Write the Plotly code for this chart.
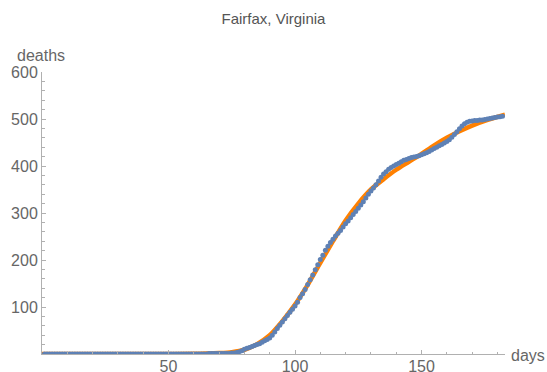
import plotly.graph_objects as go

# ---- data ----
days = list(range(1, 183))
deaths = [0] * 60 + [
    0, 0, 0, 0, 0, 1, 1, 1, 1, 1,           # 61-70
    1, 1, 1, 1, 2, 2, 3, 5, 7, 10,          # 71-80
    12, 14, 16, 18, 20, 22, 25, 28, 31, 34, # 81-90
    40, 47, 54, 61, 68, 75, 82, 89, 95, 102,        # 91-100
    110, 120, 128, 137, 148, 158, 168, 179, 190, 201,  # 101-110
    210, 221, 229, 237, 244, 251, 257, 263, 270, 277,  # 111-120
    283, 290, 297, 303, 310, 317, 324, 332, 340, 347,  # 121-130
    353, 360, 368, 376, 383, 388, 393, 397, 400, 403,  # 131-140
    406, 409, 412, 414, 416, 418, 419, 420, 422, 424,  # 141-150
    426, 428, 431, 434, 437, 440, 443, 446, 449, 452,  # 151-160
    456, 461, 467, 473, 479, 485, 490, 493, 495, 496,  # 161-170
    497, 497, 498, 498, 499, 500, 501, 502, 503, 504,  # 171-180
    505, 506,                                          # 181-182
]

fit_days = [0, 50, 60, 65, 70, 75, 80, 85, 90, 95, 100, 105, 110, 115, 120,
            125, 130, 135, 140, 145, 150, 155, 160, 165, 170, 175, 183]
fit_vals = [0, 0, 0.5, 1, 2, 4, 9, 21, 40, 70, 105, 147, 194, 240, 284,
            320, 350, 372, 392, 409, 426, 444, 460, 474, 486, 496, 509]

title_text = "Fairfax, Virginia"
x_label = "days"
y_label = "deaths"
x_ticks = [50, 100, 150]
y_ticks = [100, 200, 300, 400, 500, 600]

GRAY = "#666666"
AXIS = "#b0b0b0"
FONT = "Liberation Sans, Arial, sans-serif"

fig = go.Figure()
fig.add_trace(go.Scatter(
    x=fit_days, y=fit_vals, mode="lines",
    line=dict(color="#ff8000", width=4.5, shape="spline", smoothing=0.8),
    hoverinfo="skip", showlegend=False,
))
fig.add_trace(go.Scatter(
    x=days, y=deaths, mode="markers",
    marker=dict(color="#5e81b5", size=5, line=dict(width=0)),
    showlegend=False,
))

fig.update_layout(
    width=547, height=372,
    margin=dict(l=42, r=42, t=72, b=18),
    paper_bgcolor="white", plot_bgcolor="white",
    font=dict(family=FONT, color=GRAY, size=16),
    title=dict(text=title_text, x=0.5, xanchor="center", y=0.95, yanchor="middle",
               font=dict(size=15, color="#555555", family=FONT)),
    xaxis=dict(
        range=[0, 183], showgrid=False, zeroline=False, automargin=False,
        showline=True, linecolor=AXIS, linewidth=1,
        tickmode="array", tickvals=x_ticks, ticktext=[str(v) for v in x_ticks],
        ticks="inside", ticklen=4, tickcolor=AXIS, tickwidth=1,
        ticklabelstandoff=-2,
        minor=dict(dtick=10, tick0=0, ticks="inside", ticklen=2.5, tickcolor=AXIS, showgrid=False),
        tickfont=dict(size=16, color=GRAY),
    ),
    yaxis=dict(
        range=[0, 600], showgrid=False, zeroline=False, automargin=False,
        showline=True, linecolor=AXIS, linewidth=1,
        tickmode="array", tickvals=y_ticks, ticktext=[str(v) for v in y_ticks],
        ticks="inside", ticklen=4, tickcolor=AXIS, tickwidth=1,
        minor=dict(dtick=20, tick0=0, ticks="inside", ticklen=2.5, tickcolor=AXIS, showgrid=False),
        tickfont=dict(size=16, color=GRAY),
    ),
    annotations=[
        dict(text=x_label, xref="paper", yref="paper", x=1.0, y=0, xanchor="left",
             yanchor="middle", xshift=4, yshift=-1, showarrow=False,
             font=dict(size=16, color=GRAY, family=FONT)),
        dict(text=y_label, xref="paper", yref="paper", x=0, y=1, xanchor="center",
             yanchor="bottom", xshift=-1, yshift=6, showarrow=False,
             font=dict(size=16, color=GRAY, family=FONT)),
    ],
)

fig.write_html(
    "out.html",
    config={"displayModeBar": False},
    post_script="document.body.style.margin='0';document.body.style.padding='0';",
)
